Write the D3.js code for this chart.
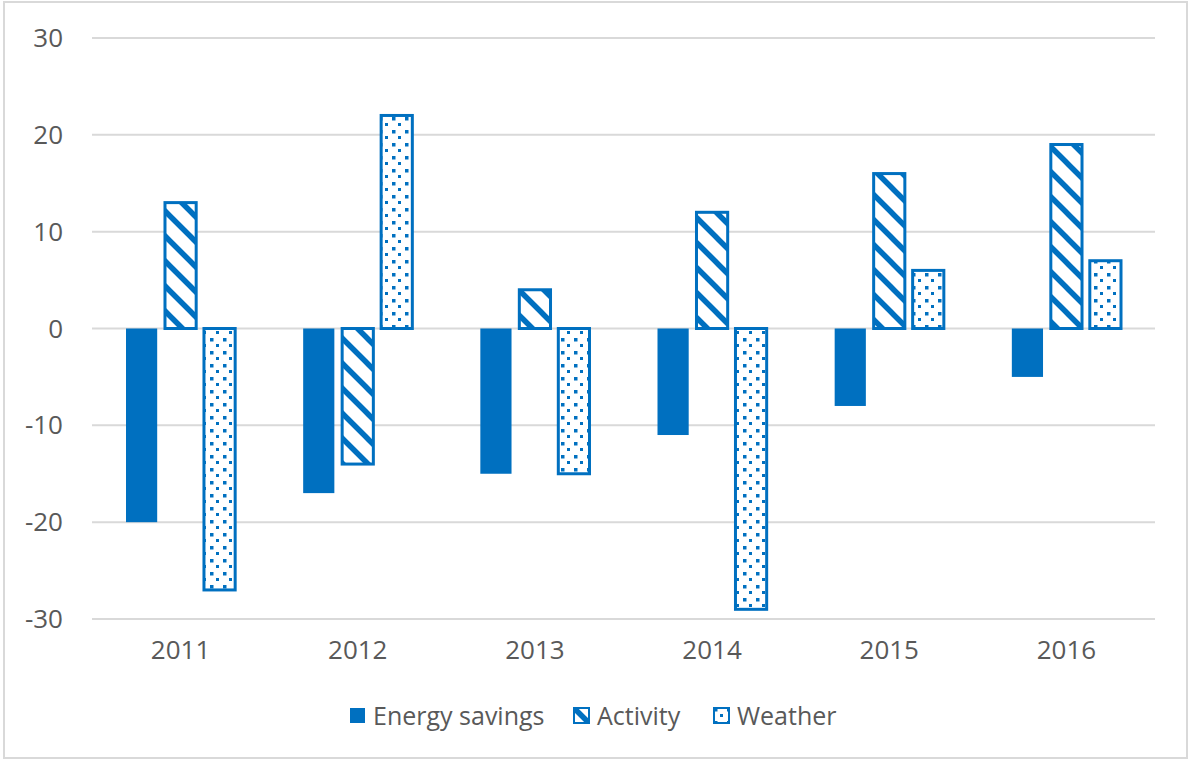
<!DOCTYPE html>
<head>
  <meta charset="utf-8">
  <script src="https://d3js.org/d3.v7.min.js"></script>
  <style>
    body { margin: 0; background: #fff; }
    text { font-family: "Open Sans", sans-serif; fill: #595959; }
  </style>
</head>
<body>
<script>

var years = ["2011", "2012", "2013", "2014", "2015", "2016"];
var seriesNames = ["Energy savings", "Activity", "Weather"];
var energySavings = [-20, -17, -15, -11, -8, -5];
var activity = [13, -14, 4, 12, 16, 19];
var weather = [-27, 22, -15, -29, 6, 7];
var yTicks = [30, 20, 10, 0, -10, -20, -30];

var blue = "#0070C0";
var W = 1189, H = 760;
var margin = {top: 38, right: 34, bottom: 141, left: 92};
var width = W - margin.left - margin.right,
    height = H - margin.top - margin.bottom;

var svg = d3.select("body").append("svg")
    .attr("width", W)
    .attr("height", H);

// chart border
svg.append("rect")
    .attr("x", 4).attr("y", 2)
    .attr("width", W - 6).attr("height", H - 4)
    .attr("fill", "none")
    .attr("stroke", "#D9D9D9")
    .attr("stroke-width", 2);

var defs = svg.append("defs");

var stripes = defs.append("pattern")
    .attr("id", "stripes")
    .attr("patternUnits", "userSpaceOnUse")
    .attr("width", 25).attr("height", 25);
stripes.append("rect").attr("width", 25).attr("height", 25).attr("fill", "#fff");
stripes.append("path")
    .attr("d", "M-6,-6 L31,31 M-31,-6 L6,31 M19,-6 L56,31")
    .attr("stroke", blue)
    .attr("stroke-width", 5.5);

var dots = defs.append("pattern")
    .attr("id", "dots")
    .attr("patternUnits", "userSpaceOnUse")
    .attr("width", 13).attr("height", 13);
dots.append("rect").attr("width", 13).attr("height", 13).attr("fill", "#fff");
dots.append("rect").attr("x", 1).attr("y", 1).attr("width", 3.5).attr("height", 3.5).attr("fill", blue);
dots.append("rect").attr("x", 7).attr("y", 7).attr("width", 3).attr("height", 3).attr("fill", blue);

var fills = [blue, "url(#stripes)", "url(#dots)"];

var g = svg.append("g")
    .attr("transform", "translate(" + margin.left + "," + margin.top + ")");

var x0 = d3.scaleBand().domain(years).range([0, width]);
var x1 = d3.scaleBand().domain(seriesNames).range([34, x0.bandwidth() - 34]).paddingInner(0.2);
var y = d3.scaleLinear().domain([-30, 30]).range([height, 0]);

// gridlines
g.selectAll(".grid")
    .data(yTicks)
  .enter().append("line")
    .attr("x1", 0).attr("x2", width)
    .attr("y1", function(d) { return y(d); })
    .attr("y2", function(d) { return y(d); })
    .attr("stroke", "#D9D9D9")
    .attr("stroke-width", 2);

g.selectAll(".ylab")
    .data(yTicks)
  .enter().append("text")
    .attr("x", -29)
    .attr("y", function(d) { return y(d); })
    .attr("dy", "0.35em")
    .attr("text-anchor", "end")
    .style("font-size", "26px")
    .text(function(d) { return d; });

var table = [];
years.forEach(function(yr, i) {
  [energySavings, activity, weather].forEach(function(arr, s) {
    table.push({year: yr, series: seriesNames[s], s: s, value: arr[i]});
  });
});

g.selectAll(".bar")
    .data(table)
  .enter().append("rect")
    .attr("x", function(d) { return x0(d.year) + x1(d.series); })
    .attr("width", x1.bandwidth())
    .attr("y", function(d) { return y(Math.max(0, d.value)); })
    .attr("height", function(d) { return Math.abs(y(d.value) - y(0)); })
    .attr("fill", function(d) { return fills[d.s]; })
    .attr("stroke", function(d) { return d.s === 0 ? "none" : blue; })
    .attr("stroke-width", 3);

g.selectAll(".xlab")
    .data(years)
  .enter().append("text")
    .attr("x", function(d) { return x0(d) + x0.bandwidth() / 2; })
    .attr("y", y(-30) + 40)
    .attr("text-anchor", "middle")
    .style("font-size", "26px")
    .text(function(d) { return d; });

// legend
var legendX = [349, 573, 713];
var legend = svg.selectAll(".legend")
    .data(seriesNames)
  .enter().append("g")
    .attr("transform", function(d, i) { return "translate(" + legendX[i] + ",707)"; });

legend.append("rect")
    .attr("width", 15).attr("height", 15)
    .attr("x", 1).attr("y", 1)
    .attr("fill", function(d, i) { return fills[i]; })
    .attr("stroke", function(d, i) { return i === 0 ? "none" : blue; })
    .attr("stroke-width", 2);

legend.append("text")
    .attr("x", 24)
    .attr("y", 9)
    .attr("dy", "0.35em")
    .style("font-size", "25px")
    .text(function(d) { return d; });

</script>
</body>
